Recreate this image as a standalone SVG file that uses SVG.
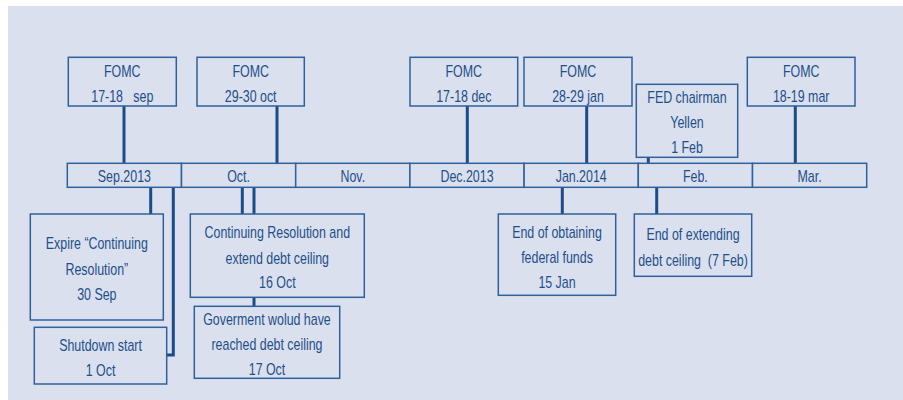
<svg xmlns="http://www.w3.org/2000/svg" width="903" height="400" viewBox="0 0 903 400">
<style>
.box{fill:#dae0ee;stroke:#2f619c;stroke-width:1.5}
.ln{fill:none;stroke:#1b4c89;stroke-width:3}
text{font-family:"Liberation Sans",Arial,sans-serif;font-size:17px;fill:#1e4f8b;text-anchor:middle;white-space:pre}
</style>
<rect x="0" y="0" width="903" height="400" fill="#ffffff"/>
<rect x="8" y="6" width="895" height="394" fill="#dae0ee"/>
<g id="connectors">
<line class="ln" x1="124" y1="106" x2="124" y2="163"/>
<line class="ln" x1="277" y1="106" x2="277" y2="163"/>
<line class="ln" x1="467.3" y1="106" x2="467.3" y2="163"/>
<line class="ln" x1="586.7" y1="106" x2="586.7" y2="163"/>
<line class="ln" x1="648.3" y1="157" x2="648.3" y2="163"/>
<line class="ln" x1="795.3" y1="106" x2="795.3" y2="163"/>
<line class="ln" x1="150.7" y1="187" x2="150.7" y2="214"/>
<polyline class="ln" points="173.3,187 173.3,355 166.7,355"/>
<line class="ln" x1="242.3" y1="187" x2="242.3" y2="214"/>
<line class="ln" x1="254" y1="187" x2="254" y2="214"/>
<line class="ln" x1="254" y1="297" x2="254" y2="306"/>
<line class="ln" x1="562.3" y1="187" x2="562.3" y2="214"/>
<line class="ln" x1="656.7" y1="187" x2="656.7" y2="214"/>
</g>
<g id="timeline">
<rect class="box" x="67.3" y="163.3" width="114.2" height="24"/>
<rect class="box" x="181.5" y="163.3" width="114.2" height="24"/>
<rect class="box" x="295.7" y="163.3" width="114.2" height="24"/>
<rect class="box" x="409.9" y="163.3" width="114.2" height="24"/>
<rect class="box" x="524.1" y="163.3" width="114.2" height="24"/>
<rect class="box" x="638.3" y="163.3" width="114.2" height="24"/>
<rect class="box" x="752.5" y="163.3" width="114.2" height="24"/>
<text transform="translate(124.4 182) scale(0.73 1)">Sep.2013</text>
<text transform="translate(238.6 182) scale(0.73 1)">Oct.</text>
<text transform="translate(352.8 182) scale(0.73 1)">Nov.</text>
<text transform="translate(467 182) scale(0.73 1)">Dec.2013</text>
<text transform="translate(581.2 182) scale(0.73 1)">Jan.2014</text>
<text transform="translate(695.4 182) scale(0.73 1)">Feb.</text>
<text transform="translate(809.6 182) scale(0.73 1)">Mar.</text>
</g>
<g id="fomc-sep">
<rect class="box" x="68.3" y="57.3" width="108" height="48.7"/>
<text transform="translate(122.3 77) scale(0.73 1)">FOMC</text>
<text transform="translate(122.3 101.5) scale(0.73 1)">17-18   sep</text>
</g>
<g id="fomc-oct">
<rect class="box" x="197" y="57.3" width="107.3" height="48.7"/>
<text transform="translate(250.7 77) scale(0.73 1)">FOMC</text>
<text transform="translate(250.7 101.5) scale(0.73 1)">29-30 oct</text>
</g>
<g id="fomc-dec">
<rect class="box" x="410" y="57.3" width="107.7" height="48.7"/>
<text transform="translate(463.8 77) scale(0.73 1)">FOMC</text>
<text transform="translate(463.8 101.5) scale(0.73 1)">17-18 dec</text>
</g>
<g id="fomc-jan">
<rect class="box" x="524" y="57.3" width="108" height="48.7"/>
<text transform="translate(578 77) scale(0.73 1)">FOMC</text>
<text transform="translate(578 101.5) scale(0.73 1)">28-29 jan</text>
</g>
<g id="fed-chairman">
<rect class="box" x="636.3" y="84.3" width="101.4" height="73"/>
<text transform="translate(687 102.5) scale(0.73 1)">FED chairman</text>
<text transform="translate(687 128) scale(0.73 1)">Yellen</text>
<text transform="translate(687 153) scale(0.73 1)">1 Feb</text>
</g>
<g id="fomc-mar">
<rect class="box" x="747.3" y="57.3" width="107.7" height="48.7"/>
<text transform="translate(801.2 77) scale(0.73 1)">FOMC</text>
<text transform="translate(801.2 101.5) scale(0.73 1)">18-19 mar</text>
</g>
<g id="expire-cr">
<rect class="box" x="30.3" y="214" width="133" height="106"/>
<text transform="translate(96.8 249) scale(0.73 1)">Expire “Continuing</text>
<text transform="translate(96.8 274.5) scale(0.73 1)">Resolution”</text>
<text transform="translate(96.8 300) scale(0.73 1)">30 Sep</text>
</g>
<g id="shutdown">
<rect class="box" x="34.3" y="327.3" width="132.4" height="56.7"/>
<text transform="translate(100.5 350.5) scale(0.73 1)">Shutdown start</text>
<text transform="translate(100.5 375.5) scale(0.73 1)">1 Oct</text>
</g>
<g id="cr-debt">
<rect class="box" x="190.3" y="214" width="174" height="83.3"/>
<text transform="translate(277.3 238) scale(0.73 1)">Continuing Resolution and</text>
<text transform="translate(277.3 263.5) scale(0.73 1)">extend debt ceiling</text>
<text transform="translate(277.3 288) scale(0.73 1)">16 Oct</text>
</g>
<g id="gov-debt">
<rect class="box" x="194.3" y="306.3" width="145.4" height="72"/>
<text transform="translate(267 324.5) scale(0.73 1)">Goverment wolud have</text>
<text transform="translate(267 349.5) scale(0.73 1)">reached debt ceiling</text>
<text transform="translate(267 374.5) scale(0.73 1)">17 Oct</text>
</g>
<g id="federal-funds">
<rect class="box" x="498.3" y="214" width="117.4" height="81.3"/>
<text transform="translate(557 237.5) scale(0.73 1)">End of obtaining</text>
<text transform="translate(557 262.5) scale(0.73 1)">federal funds</text>
<text transform="translate(557 287.5) scale(0.73 1)">15 Jan</text>
</g>
<g id="extend-debt">
<rect class="box" x="634.3" y="214" width="117.4" height="62.3"/>
<text transform="translate(693 240) scale(0.73 1)">End of extending</text>
<text transform="translate(693 265.5) scale(0.73 1)">debt ceiling  (7 Feb)</text>
</g>
</svg>
